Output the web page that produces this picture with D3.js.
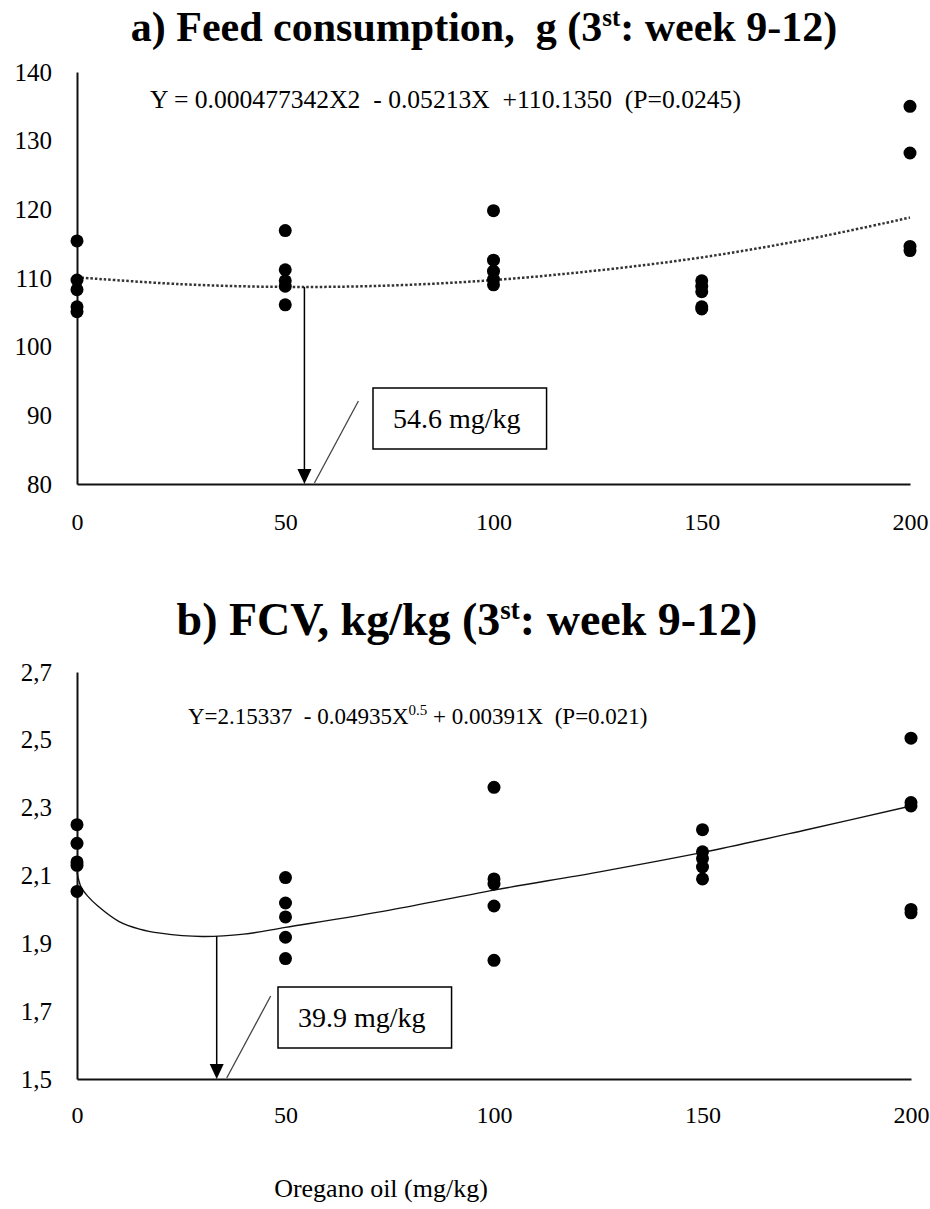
<!DOCTYPE html>
<html>
<head>
<meta charset="utf-8">
<script src="https://cdn.jsdelivr.net/npm/d3@7"></script>
<style>
    body { margin: 0; background: #fff; }
    text { font-family: "Liberation Serif", "Times New Roman", serif; fill: #000; }
</style>
</head>
<body>
<svg id="chart" width="930" height="1209"></svg>
<script>
// Oregano oil doses (mg/kg)
var doses = [0, 50, 100, 150, 200];
var xTicks = [0, 50, 100, 150, 200];

// a) Feed consumption, g - one array of pen values per dose
var feedByDose = [
    [115.4, 109.7, 108.3, 105.8, 105.1],
    [116.9, 111.2, 109.6, 108.8, 106.1],
    [119.8, 112.6, 111.0, 109.8, 109.0],
    [109.6, 108.8, 108.0, 105.8, 105.5],
    [135.0, 128.2, 114.6, 114.0]
];
var feedTicks = [80, 90, 100, 110, 120, 130, 140];
// dotted regression line
var feedFitX = [0, 25, 50, 75, 100, 125, 150, 175, 200];
var feedFitY = [110.1, 109.1, 108.7, 108.9, 109.7, 111.1, 113.0, 115.6, 118.8];
var feedArrow = [54.6, 108.7];
var feedEquation = "Y = 0.000477342X2  - 0.05213X  +110.1350  (P=0.0245)";
var feedLabel = "54.6 mg/kg";

// b) FCV, kg/kg
var fcvByDose = [
    [2.25, 2.195, 2.14, 2.13, 2.053],
    [2.094, 2.019, 1.978, 1.918, 1.855],
    [2.36, 2.09, 2.075, 2.01, 1.85],
    [2.235, 2.17, 2.15, 2.125, 2.09],
    [2.505, 2.315, 2.305, 2.0, 1.99]
];
var fcvTicks = [1.5, 1.7, 1.9, 2.1, 2.3, 2.5, 2.7];
var fcvFitX = [0, 1, 2.5, 5, 10, 15, 20, 30, 40, 50, 75, 100, 125, 150, 175, 200];
var fcvFitY = [2.11, 2.065, 2.04, 2.01, 1.965, 1.942, 1.93, 1.92, 1.927, 1.947, 1.998, 2.057, 2.11, 2.168, 2.235, 2.305];
var fcvArrow = [33.5, 1.921];
var fcvEquation = ["Y=2.15337  - 0.04935X", "0.5", " + 0.00391X  (P=0.021)"];
var fcvLabel = "39.9 mg/kg";

var svg = d3.select("#chart");
var commaFormat = d3.formatLocale({ decimal: ",", thousands: ".", grouping: [3], currency: ["", ""] }).format(".1f");

function drawPanel(p) {
    var x = d3.scaleLinear().domain([0, 200]).range(p.xRange);
    var y = d3.scaleLinear().domain(p.yDomain).range(p.yRange);
    var g = svg.append("g");

    // axes: plain lines, no tick marks
    g.append("g")
        .attr("transform", `translate(0,${p.yRange[0]})`)
        .call(d3.axisBottom(x).tickValues(xTicks).tickSize(0).tickPadding(p.xPad).tickFormat(d3.format("d")))
        .call(a => a.select(".domain").attr("stroke", "#111").attr("stroke-width", 2))
        .selectAll("text").style("font-size", "24px").attr("font-family", null);

    g.append("g")
        .attr("transform", `translate(${p.xRange[0]},0)`)
        .call(d3.axisLeft(y).tickValues(p.ticks).tickSize(0).tickPadding(25).tickFormat(p.fmt))
        .call(a => a.select(".domain").attr("stroke", "#111").attr("stroke-width", 2))
        .selectAll("text").style("font-size", "25px").attr("font-family", null);

    // regression line
    var line = d3.line()
        .x((d, i) => x(p.fitX[i]))
        .y(d => y(d))
        .curve(d3.curveCatmullRom.alpha(0.5));
    g.append("path")
        .datum(p.fitY)
        .attr("d", line)
        .attr("fill", "none")
        .attr("stroke", p.dotted ? "#333" : "#111")
        .attr("stroke-width", p.dotted ? 2.5 : 1.4)
        .attr("stroke-dasharray", p.dotted ? "2.5,2" : null);

    // individual observations
    var pts = [];
    p.values.forEach((arr, i) => arr.forEach(v => pts.push([doses[i], v])));
    g.selectAll(".dot")
        .data(pts)
        .enter().append("circle")
        .attr("class", "dot")
        .attr("cx", d => x(d[0]))
        .attr("cy", d => y(d[1]))
        .attr("r", 6.5)
        .attr("fill", "#000");

    // arrow down to the optimum
    var ax = x(p.arrow[0]);
    var yBase = p.yRange[0];
    g.append("line")
        .attr("x1", ax).attr("x2", ax)
        .attr("y1", y(p.arrow[1])).attr("y2", yBase - 12)
        .attr("stroke", "#000").attr("stroke-width", 1.5);
    g.append("path")
        .attr("d", `M${ax - 7},${yBase - 15}L${ax + 7},${yBase - 15}L${ax},${yBase}Z`)
        .attr("fill", "#000");

    // leader line and label box
    g.append("line")
        .attr("x1", ax + 10).attr("y1", yBase - 1)
        .attr("x2", ax + 54).attr("y2", yBase - 83)
        .attr("stroke", "#444").attr("stroke-width", 1.3);

    var box = g.append("rect")
        .attr("x", p.box[0]).attr("y", p.box[1])
        .attr("height", 61)
        .attr("fill", "#fff").attr("stroke", "#000").attr("stroke-width", 1.5);
    var label = g.append("text")
        .attr("x", p.box[0] + 20)
        .attr("y", p.box[1] + 40)
        .style("font-size", "28px")
        .text(p.label);
    box.attr("width", label.node().getComputedTextLength() + 46);

    return g;
}

// ---- panel a ----
svg.append("text")
    .attr("x", 484).attr("y", 41)
    .attr("text-anchor", "middle")
    .style("font-size", "42px").style("font-weight", "bold").style("white-space", "pre")
    .call(t => {
        t.append("tspan").text("a) Feed consumption,  g (3");
        t.append("tspan").attr("dy", -15).style("font-size", "25px").text("st");
        t.append("tspan").attr("dy", 15).text(": week 9-12)");
    });

var ga = drawPanel({
    xRange: [77, 910], yRange: [484, 72], yDomain: [80, 140],
    ticks: feedTicks, fmt: d3.format("d"), xPad: 29,
    values: feedByDose, fitX: feedFitX, fitY: feedFitY, dotted: true,
    arrow: feedArrow, box: [373, 388], label: feedLabel
});

ga.append("text")
    .attr("x", 150).attr("y", 108)
    .style("font-size", "25.6px").style("white-space", "pre")
    .text(feedEquation);

// ---- panel b ----
svg.append("text")
    .attr("x", 467).attr("y", 635)
    .attr("text-anchor", "middle")
    .style("font-size", "46px").style("font-weight", "bold").style("white-space", "pre")
    .call(t => {
        t.append("tspan").text("b) FCV, kg/kg (3");
        t.append("tspan").attr("dy", -16).style("font-size", "27px").text("st");
        t.append("tspan").attr("dy", 16).text(": week 9-12)");
    });

var gb = drawPanel({
    xRange: [77, 911], yRange: [1079, 672], yDomain: [1.5, 2.7],
    ticks: fcvTicks, fmt: commaFormat, xPad: 27,
    values: fcvByDose, fitX: fcvFitX, fitY: fcvFitY, dotted: false,
    arrow: fcvArrow, box: [278, 987], label: fcvLabel
});

gb.append("text")
    .attr("x", 188).attr("y", 724)
    .style("font-size", "23px").style("white-space", "pre")
    .call(t => {
        t.append("tspan").text(fcvEquation[0]);
        t.append("tspan").attr("dy", -9).style("font-size", "15px").text(fcvEquation[1]);
        t.append("tspan").attr("dy", 9).text(fcvEquation[2]);
    });

// x axis title
svg.append("text")
    .attr("x", 381).attr("y", 1197)
    .attr("text-anchor", "middle")
    .style("font-size", "26px")
    .text("Oregano oil (mg/kg)");
</script>
</body>
</html>
